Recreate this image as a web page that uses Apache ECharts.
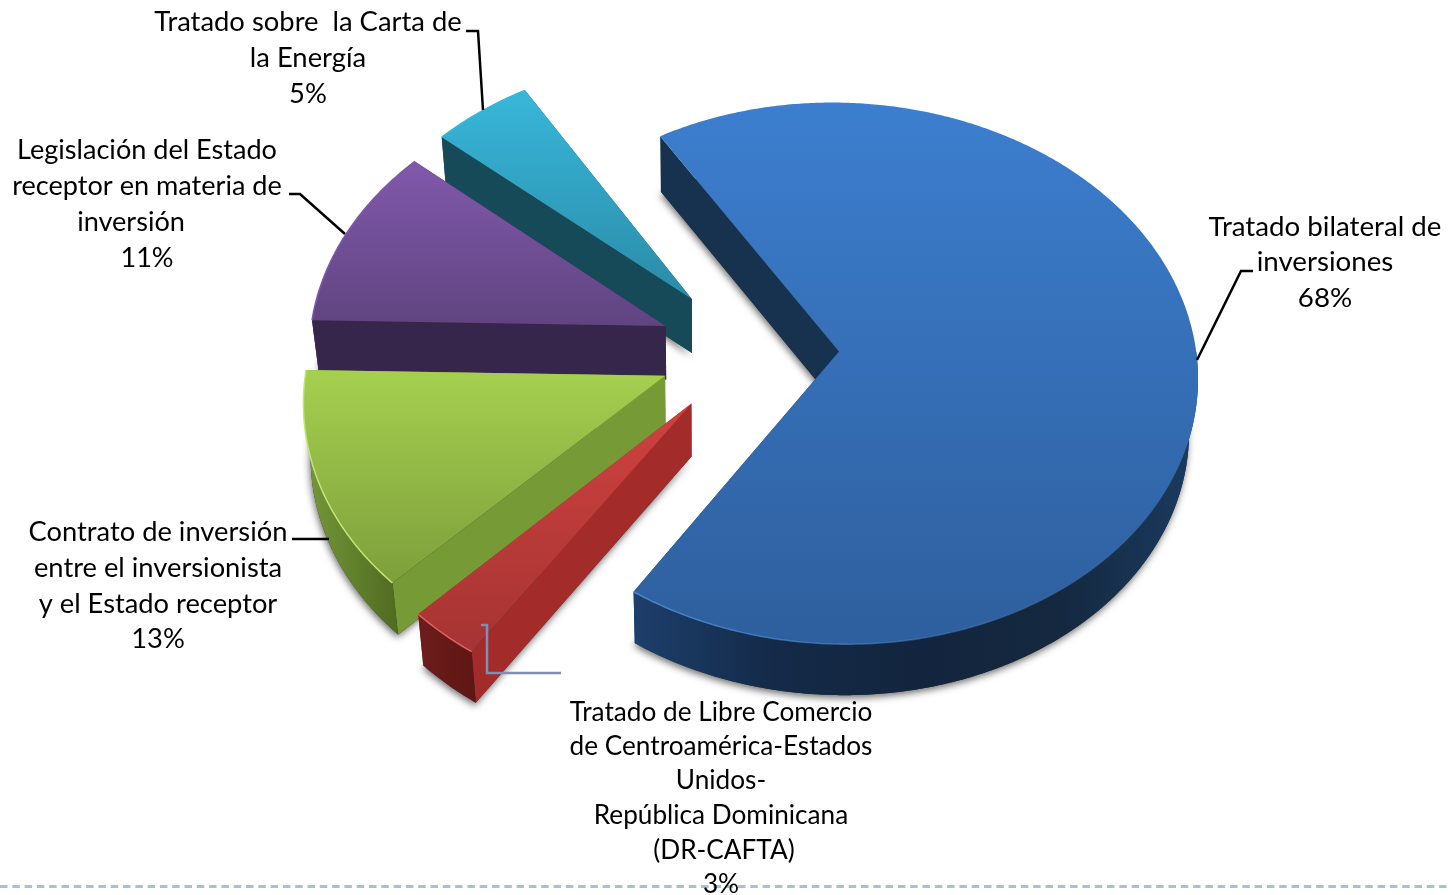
<!DOCTYPE html>
<html>
<head>
<meta charset="utf-8">
<style>
  html, body { margin: 0; padding: 0; background: #fff; }
  #chart { width: 1451px; height: 895px; }
</style>
<script src="https://cdn.jsdelivr.net/npm/echarts@6/dist/echarts.min.js"></script>
</head>
<body>
<div id="chart"></div>
<script>
// Origen del consentimiento a la jurisdicción: reparto porcentual
const categories = [
  'Tratado bilateral de inversiones',
  'Tratado de Libre Comercio de Centroamérica-Estados Unidos-República Dominicana (DR-CAFTA)',
  'Contrato de inversión entre el inversionista y el Estado receptor',
  'Legislación del Estado receptor en materia de inversión',
  'Tratado sobre la Carta de la Energía'
];
const shares = [68, 3, 13, 11, 5];
const labelLines = [
  ['Tratado bilateral de', 'inversiones'],
  ['Tratado de Libre Comercio', 'de Centroamérica-Estados', 'Unidos-', 'República Dominicana', '(DR-CAFTA)'],
  ['Contrato de inversión', 'entre el inversionista', 'y el Estado receptor'],
  ['Legislación del Estado', 'receptor en materia de', 'inversión'],
  ['Tratado sobre  la Carta de', 'la Energía']
];

// Pie projection
const firstAngle = -31.2;
const view = { cx: 749, cy: 350, radius: 357, explode: 90, squash: 0.753, perspective: 0.081, depth: 53.5, depthTilt: 2.5, baseScale: 0.982, baseX: 700 };

// Slice appearance, in the same order as the values
const looks = [
  { z: 50, top: ['#3c7ecf', '#2e5f9d'], side: '#17324f', rim: '#4a86cf', rimFrom: 120, rimFade: true, outer: ['#1d3f6b', '#142a48', '#13253e', '#14283f', '#1b3b60'] },
  { z: 40, top: ['#cf4240', '#a53432'], side: '#a32c2a', rim: '#dd6460', rimFrom: 0, outer: ['#6e1d1b', '#5e1614'] },
  { z: 30, top: ['#a5d04f', '#7e9f3b'], side: '#769a35', rim: '#c4e676', rimFrom: 0, outer: ['#76993a', '#4f6b20'] },
  { z: 20, top: ['#8159ac', '#604480'], side: '#37264b', rim: '#8159ac', rimFrom: 0, outer: ['#37264b', '#37264b'] },
  { z: 10, top: ['#38b7da', '#2b8ba8'], side: '#164a58', rim: '#38b7da', rimFrom: 0, outer: ['#164a58', '#164a58'] }
];

// Label placement: text size, then centre x and centre y of each text line
const labelPlacement = [
  { size: 27.7, lines: [[1325, 227.5], [1325, 262.5], [1325, 298.5]] },
  { size: 26.2, lines: [[721, 712.5], [721, 746.5], [721, 780.5], [721, 815.5], [724, 850.5], [721, 884.5]] },
  { size: 27.3, lines: [[158, 532], [158, 568], [158, 604], [158, 639]] },
  { size: 27.1, lines: [[147, 150], [147, 186], [131, 222], [147, 258]] },
  { size: 27.4, lines: [[308, 22], [308, 58], [308, 94]] }
];
const leaders = [
  { points: [[1197, 360], [1241, 271], [1253, 271]], color: '#000', width: 2.5 },
  { points: [[481, 625], [487, 625], [487, 673], [561, 673]], color: '#7c90b6', width: 2.5 },
  { points: [[329, 539], [292, 539]], color: '#000', width: 2.5 },
  { points: [[345, 234], [300, 194], [289, 194]], color: '#000', width: 2.5 },
  { points: [[483, 110], [478, 31], [466, 31]], color: '#000', width: 2.5 }
];

const total = shares.reduce((a, b) => a + b, 0);
const rad = Math.PI / 180;

function sliceAngles(index) {
  let start = firstAngle;
  for (let i = 0; i < index; i++) start += shares[i] / total * 360;
  return [start, start + shares[index] / total * 360];
}

// Maps a point of the pie plane (angle from 12 o'clock, clockwise) to the screen
function project(angle, r, mid, base) {
  const X = view.explode * Math.sin(mid * rad) + r * Math.sin(angle * rad);
  const Y = view.explode * Math.cos(mid * rad) + r * Math.cos(angle * rad);
  const s = 1 / (1 + view.perspective * Y / view.radius);
  let x = view.cx + X * s;
  let y = view.cy - Y * view.squash * s;
  if (base) {
    x = view.baseX + (x - view.baseX) * view.baseScale;
    y += view.depth + view.depthTilt * Y / view.radius;
  }
  return [x, y];
}

function arcPoints(from, to, mid, base) {
  const pts = [];
  const steps = Math.max(2, Math.ceil((to - from) * 2));
  for (let i = 0; i <= steps; i++) {
    pts.push(project(from + (to - from) * i / steps, view.radius, mid, base));
  }
  return pts;
}

function vertical(colors) {
  return new echarts.graphic.LinearGradient(0, 0, 0, 1, colors.map((c, i) => ({ offset: i / (colors.length - 1), color: c })));
}
function horizontal(colors) {
  return new echarts.graphic.LinearGradient(0, 0, 1, 0, colors.map((c, i) => ({ offset: i / (colors.length - 1), color: c })));
}

function renderSlice(params, api) {
  const i = params.dataIndex;
  const look = looks[i];
  const [a0, a1] = sliceAngles(i);
  const mid = (a0 + a1) / 2;
  const apexTop = project(0, 0, mid, false);
  const apexBase = project(0, 0, mid, true);
  const arcTop = arcPoints(a0, a1, mid, false);
  const arcBase = arcPoints(a0, a1, mid, true);
  const n = arcTop.length - 1;
  const frontFrom = Math.max(a0, 90);

  const children = [];
  // soft shadow cast by the base of the slice
  children.push({
    type: 'polygon', z2: look.z,
    shape: { points: [apexBase].concat(arcBase) },
    style: { fill: '#333', shadowColor: 'rgba(0,0,0,0.55)', shadowBlur: 7, shadowOffsetX: -1, shadowOffsetY: 3 }
  });
  // radial walls
  children.push({
    type: 'polygon', z2: look.z + 1,
    shape: { points: [apexTop, arcTop[n], arcBase[n], apexBase] },
    style: { fill: look.side }
  });
  children.push({
    type: 'polygon', z2: look.z + 1,
    shape: { points: [apexTop, arcTop[0], arcBase[0], apexBase] },
    style: { fill: look.side }
  });
  // outer curved wall
  const frontTop = arcPoints(frontFrom, a1, mid, false);
  const frontBase = arcPoints(frontFrom, a1, mid, true);
  children.push({
    type: 'polygon', z2: look.z + 2,
    shape: { points: frontTop.concat(frontBase.slice().reverse()) },
    style: { fill: horizontal(look.outer) }
  });
  // upper face
  children.push({
    type: 'polygon', z2: look.z + 3,
    shape: { points: [apexTop].concat(arcTop) },
    style: { fill: vertical(look.top) }
  });
  // light rim along the front of the upper face
  children.push({
    type: 'polyline', z2: look.z + 4,
    shape: { points: arcPoints(Math.max(frontFrom, look.rimFrom), a1, mid, false) },
    style: {
      stroke: look.rimFade ? horizontal([look.rim, look.rim + '00']) : look.rim,
      lineWidth: 1.5,
      fill: null
    }
  });

  // leader line
  children.push({
    type: 'polyline', z2: 90,
    shape: { points: leaders[i].points },
    style: { stroke: leaders[i].color, lineWidth: leaders[i].width, fill: null }
  });

  // label text, last line is the share
  const value = api.value(0);
  const lines = labelLines[i].concat([value + '%']);
  lines.forEach((line, k) => {
    const pos = labelPlacement[i].lines[k];
    children.push({
      type: 'text', z2: 100,
      style: {
        text: line, x: pos[0], y: pos[1], align: 'center', verticalAlign: 'middle',
        font: labelPlacement[i].size + 'px Lato', fill: '#000'
      }
    });
  });

  return { type: 'group', children };
}

const chart = echarts.init(document.getElementById('chart'), null, { renderer: 'canvas' });
chart.setOption({
  animation: false,
  backgroundColor: '#fff',
  graphic: [{
    type: 'line', z: 0,
    shape: { x1: 0, y1: 886.5, x2: 1451, y2: 886.5 },
    style: { stroke: '#a8bfd9', lineWidth: 3, lineDash: [7.5, 4.8] }
  }],
  series: [{
    type: 'custom',
    name: 'Consentimiento',
    coordinateSystem: 'none',
    z: 5,
    silent: true,
    renderItem: renderSlice,
    data: shares.map((v, i) => ({ name: categories[i], value: v }))
  }]
});
</script>
</body>
</html>
